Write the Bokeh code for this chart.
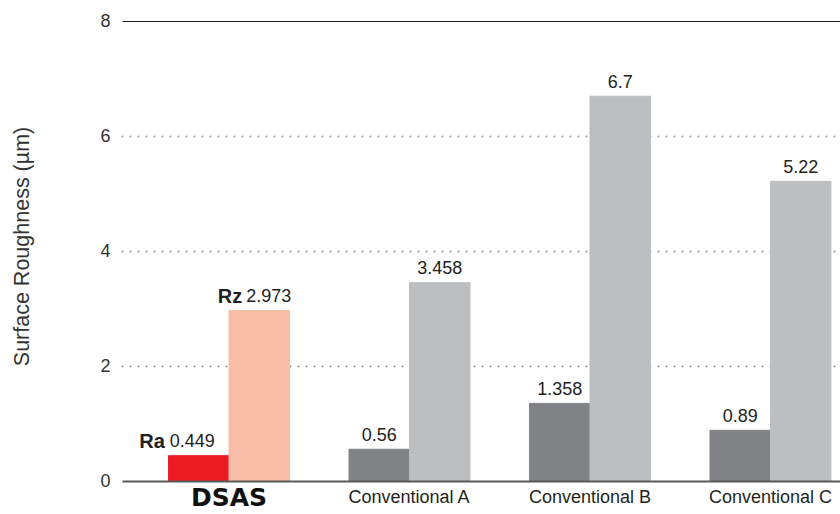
import math
from bokeh.plotting import figure
from bokeh.models import Range1d, ColumnDataSource
from bokeh.core.properties import value
from bokeh.embed import file_html
from bokeh.resources import INLINE

# ---- data ----
categories = ["DSAS", "Conventional A", "Conventional B", "Conventional C"]
ra_values = [0.449, 0.56, 1.358, 0.89]
rz_values = [2.973, 3.458, 6.7, 5.22]
ra_labels = ["0.449", "0.56", "1.358", "0.89"]
rz_labels = ["2.973", "3.458", "6.7", "5.22"]
y_ticks = [0, 2, 4, 6, 8]
y_title = "Surface Roughness (µm)"

# ---- styles ----
ra_colors = ["#ED1C24", "#808285", "#808285", "#808285"]
rz_colors = ["#F8BEA7", "#BCBEC0", "#BCBEC0", "#BCBEC0"]
TXT = "#231F20"
FONT = "Liberation Sans"
W = 0.335
VAL_OFF = -15
PLOT_X0 = -0.590   # left end of the value area (data units)
PLOT_X1 = 3.388

idx = list(range(len(categories)))
x_ra = [i - W / 2 for i in idx]
x_rz = [i + W / 2 for i in idx]

p = figure(width=840, height=514, output_backend="svg", toolbar_location=None,
           x_range=Range1d(-1.266, PLOT_X1), y_range=Range1d(-0.574, 8.365),
           min_border_left=0, min_border_right=0, min_border_top=0,
           min_border_bottom=0)
p.outline_line_color = None
p.background_fill_color = "white"
p.border_fill_color = "white"
p.axis.visible = False
p.grid.visible = False

# grid lines
inner = [t for t in y_ticks if 0 < t < y_ticks[-1]]
p.segment(x0=[PLOT_X0] * len(inner), y0=inner, x1=[PLOT_X1] * len(inner), y1=inner,
          line_color="#939598", line_width=2, line_dash="0 8", line_cap="round")
p.segment(x0=[PLOT_X0], y0=[y_ticks[-1]], x1=[PLOT_X1], y1=[y_ticks[-1]],
          line_color="#231F20", line_width=1.2)

# bars
src_ra = ColumnDataSource(dict(x=x_ra, top=ra_values, color=ra_colors))
src_rz = ColumnDataSource(dict(x=x_rz, top=rz_values, color=rz_colors))
p.vbar(x="x", top="top", width=W, bottom=0, color="color", source=src_ra)
p.vbar(x="x", top="top", width=W, bottom=0, color="color", source=src_rz)

p.segment(x0=[PLOT_X0], y0=[y_ticks[0]], x1=[PLOT_X1], y1=[y_ticks[0]],
          line_color="#58595B", line_width=1.8)

# y tick labels
p.text(x=[PLOT_X0] * len(y_ticks), y=y_ticks, text=[str(t) for t in y_ticks],
       x_offset=-12, y_offset=-1, text_align="right", text_baseline="middle",
       text_font=value(FONT), text_font_size="18px", text_color="#333333")

# y axis title
p.text(x=[PLOT_X0], y=[y_ticks[-1] / 2], text=[y_title], x_offset=-101, y_offset=-5,
       angle=math.pi / 2, text_align="center", text_baseline="middle",
       text_font=value(FONT), text_font_size="21.5px", text_color="#333333")

# value labels for conventional bars (centered)
p.text(x=x_ra[1:], y=ra_values[1:], text=ra_labels[1:], y_offset=VAL_OFF,
       text_align="center", text_baseline="alphabetic", text_font=value(FONT),
       text_font_size="18px", text_color=TXT)
p.text(x=x_rz[1:], y=rz_values[1:], text=rz_labels[1:], y_offset=VAL_OFF,
       text_align="center", text_baseline="alphabetic", text_font=value(FONT),
       text_font_size="18px", text_color=TXT)

# DSAS labels: bold prefix + number
prefixes = ["Ra", "Rz"]
pref_off = [-34, -17]
num_off = [-29, -13]
dsas_x = [x_ra[0], x_rz[0]]
dsas_y = [ra_values[0], rz_values[0]]
dsas_num = [ra_labels[0], rz_labels[0]]
for k in range(2):
    p.text(x=[dsas_x[k]], y=[dsas_y[k]], text=[prefixes[k]], x_offset=pref_off[k],
           y_offset=VAL_OFF, text_align="right", text_baseline="alphabetic",
           text_font=value(FONT), text_font_style="bold", text_font_size="20px",
           text_color=TXT)
    p.text(x=[dsas_x[k]], y=[dsas_y[k]], text=[dsas_num[k]], x_offset=num_off[k],
           y_offset=VAL_OFF, text_align="left", text_baseline="alphabetic",
           text_font=value(FONT), text_font_size="18px", text_color=TXT)

# category labels
p.text(x=[idx[0]], y=[0], text=[categories[0]], y_offset=16, text_align="center",
       text_baseline="alphabetic", text_font=value("DejaVu Sans"),
       text_font_style="bold", text_font_size="25px", text_color="#111111")
p.text(x=idx[1:], y=[0] * 3, text=categories[1:], y_offset=16, text_align="center",
       text_baseline="alphabetic", text_font=value(FONT), text_font_size="18px",
       text_color=TXT)

open("out.html", "w").write(file_html(p, INLINE))
